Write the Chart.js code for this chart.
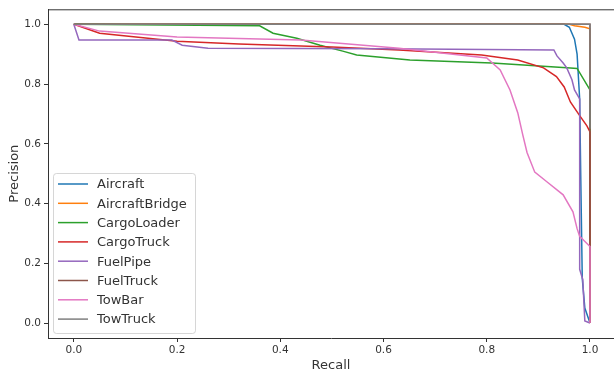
<!DOCTYPE html>
<html>
<head>
<meta charset="utf-8">
<script src="https://cdn.jsdelivr.net/npm/chart.js@4"></script>
<style>
  html, body { margin: 0; padding: 0; background: #fff; }
</style>
</head>
<body>
<canvas id="prChart" width="614" height="374"></canvas>
<script>
// class names and tick values
const classNames = ['Aircraft', 'AircraftBridge', 'CargoLoader', 'CargoTruck', 'FuelPipe', 'FuelTruck', 'TowBar', 'TowTruck'];
const xTickValues = [0.0, 0.2, 0.4, 0.6, 0.8, 1.0];
const yTickValues = [0.0, 0.2, 0.4, 0.6, 0.8, 1.0];

// recall / precision pairs
const aircraftRecall = [0, 0.95, 0.96, 0.97, 0.975, 0.98, 0.982, 0.985, 0.99, 1.0];
const aircraftPrecision = [1, 1, 0.99, 0.95, 0.9, 0.75, 0.5, 0.15, 0.05, 0];

const bridgeRecall = [0, 0.96, 0.97, 0.99, 1.0, 1.0];
const bridgePrecision = [1, 1, 0.995, 0.99, 0.985, 0];

const loaderRecall = [0, 0.36, 0.386, 0.432, 0.477, 0.521, 0.548, 0.651, 0.81, 0.955, 0.975, 1.0, 1.0];
const loaderPrecision = [1, 0.995, 0.97, 0.953, 0.93, 0.91, 0.897, 0.88, 0.87, 0.854, 0.852, 0.78, 0];

const cargoTruckRecall = [0, 0.05, 0.2, 0.32, 0.5, 0.63, 0.79, 0.86, 0.91, 0.935, 0.95, 0.962, 0.98, 0.994, 1.0, 1.0];
const cargoTruckPrecision = [1, 0.97, 0.943, 0.934, 0.924, 0.914, 0.897, 0.88, 0.854, 0.825, 0.79, 0.74, 0.694, 0.66, 0.64, 0];

const fuelPipeRecall = [0, 0.01, 0.19, 0.21, 0.26, 0.6, 0.93, 0.936, 0.948, 0.955, 0.965, 0.97, 0.98, 0.98, 0.986, 0.99, 1.0];
const fuelPipePrecision = [1, 0.947, 0.947, 0.93, 0.92, 0.918, 0.914, 0.894, 0.87, 0.854, 0.814, 0.78, 0.75, 0.18, 0.146, 0.007, 0];

const fuelTruckRecall = [0, 0.5, 1.0, 1.0];
const fuelTruckPrecision = [1, 1, 1, 0];

const towBarRecall = [0, 0.05, 0.2, 0.44, 0.63, 0.8, 0.826, 0.845, 0.86, 0.87, 0.878, 0.893, 0.917, 0.948, 0.967, 0.975, 0.98, 1.0, 1.0];
const towBarPrecision = [1, 0.977, 0.957, 0.947, 0.92, 0.887, 0.847, 0.78, 0.704, 0.628, 0.571, 0.505, 0.472, 0.429, 0.372, 0.316, 0.29, 0.256, 0];

const towTruckRecall = [0, 1.0, 1.0];
const towTruckPrecision = [1, 1, 0.65];

const seriesRecall = [aircraftRecall, bridgeRecall, loaderRecall, cargoTruckRecall, fuelPipeRecall, fuelTruckRecall, towBarRecall, towTruckRecall];
const seriesPrecision = [aircraftPrecision, bridgePrecision, loaderPrecision, cargoTruckPrecision, fuelPipePrecision, fuelTruckPrecision, towBarPrecision, towTruckPrecision];

// matplotlib tab10
const lineColors = ['#1f77b4', '#ff7f0e', '#2ca02c', '#d62728', '#9467bd', '#8c564b', '#e377c2', '#7f7f7f'];
const axisColor = '#333';
const fontFamily = "'DejaVu Sans', sans-serif";

const datasets = classNames.map((name, i) => ({
  label: name,
  data: seriesRecall[i].map((r, k) => ({ x: r, y: seriesPrecision[i][k] })),
  borderColor: lineColors[i],
  backgroundColor: lineColors[i],
  borderWidth: 1.5,
  pointRadius: 0,
  tension: 0,
  fill: false,
  order: classNames.length - i   // later classes drawn on top, like matplotlib
}));

// top spine
const framePlugin = {
  id: 'frame',
  afterDraw(chart) {
    const { ctx, chartArea } = chart;
    ctx.save();
    ctx.strokeStyle = axisColor;
    ctx.lineWidth = 1;
    ctx.beginPath();
    ctx.moveTo(chartArea.left, chartArea.top + 0.5);
    ctx.lineTo(chartArea.right, chartArea.top + 0.5);
    ctx.stroke();
    ctx.restore();
  }
};

// matplotlib style legend in lower left corner
const legendPlugin = {
  id: 'mplLegend',
  afterDatasetsDraw(chart) {
    const { ctx, chartArea } = chart;
    const rowH = 19.3;
    const boxW = 142;
    const boxH = 160;
    const x0 = chartArea.left + 5;
    const y0 = chartArea.bottom - 5 - boxH;
    ctx.save();
    ctx.fillStyle = 'rgba(255,255,255,0.8)';
    ctx.strokeStyle = 'rgba(204,204,204,0.8)';
    ctx.lineWidth = 1;
    ctx.beginPath();
    ctx.roundRect(x0 + 0.5, y0 + 0.5, boxW, boxH, 3);
    ctx.fill();
    ctx.stroke();
    ctx.font = '13px ' + fontFamily;
    ctx.textBaseline = 'middle';
    chart.data.datasets.forEach((ds, i) => {
      const y = y0 + 11 + i * rowH;
      ctx.strokeStyle = ds.borderColor;
      ctx.lineWidth = 1.5;
      ctx.beginPath();
      ctx.moveTo(x0 + 5, y);
      ctx.lineTo(x0 + 35, y);
      ctx.stroke();
      ctx.fillStyle = axisColor;
      ctx.fillText(ds.label, x0 + 44, y + 1);
    });
    ctx.restore();
  }
};

const ctx = document.getElementById('prChart').getContext('2d');
new Chart(ctx, {
  type: 'line',
  data: { datasets },
  options: {
    responsive: false,
    animation: false,
    layout: { padding: { top: 6, right: 0, left: 0, bottom: 0 } },
    plugins: {
      legend: { display: false },
      tooltip: { enabled: false }
    },
    scales: {
      x: {
        type: 'linear',
        min: -0.05,
        max: 1.0465,
        afterBuildTicks: scale => { scale.ticks = xTickValues.map(v => ({ value: v })); },
        afterFit: scale => { scale.height = 36; },
        grid: { drawOnChartArea: false, drawTicks: true, tickLength: 4, color: axisColor },
        border: { display: true, color: axisColor, width: 1 },
        ticks: {
          color: axisColor,
          padding: 2,
          maxRotation: 0,
          font: { size: 10.5, family: fontFamily },
          callback: v => v.toFixed(1)
        },
        title: {
          display: true,
          text: 'Recall',
          color: axisColor,
          padding: { top: 0, bottom: 1 },
          font: { size: 13, family: fontFamily }
        }
      },
      y: {
        type: 'linear',
        min: -0.05,
        max: 1.05,
        afterBuildTicks: scale => { scale.ticks = yTickValues.map(v => ({ value: v })); },
        afterFit: scale => { scale.width = 48; },
        grid: { drawOnChartArea: false, drawTicks: true, tickLength: 4, color: axisColor },
        border: { display: true, color: axisColor, width: 1 },
        ticks: {
          color: axisColor,
          padding: 3,
          font: { size: 10.5, family: fontFamily },
          callback: v => v.toFixed(1)
        },
        title: {
          display: true,
          text: 'Precision',
          color: axisColor,
          padding: { top: 7, bottom: 0 },
          font: { size: 13, family: fontFamily }
        }
      }
    }
  },
  plugins: [framePlugin, legendPlugin]
});
</script>
</body>
</html>
